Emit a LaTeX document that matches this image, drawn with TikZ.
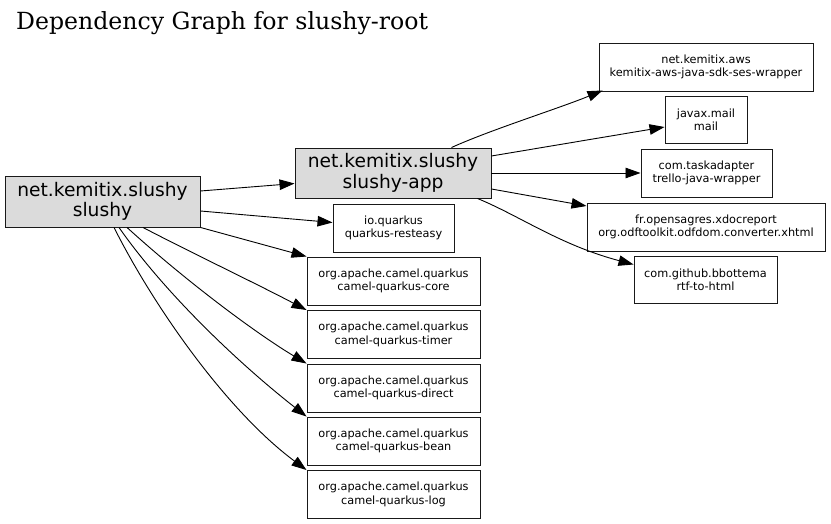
\documentclass[tikz,border=0pt]{standalone}
\usepackage{fontspec}
\setmainfont{DejaVu Sans}
\newfontfamily\titlefont{DejaVu Serif}
\usetikzlibrary{arrows.meta}
\begin{document}
\begin{tikzpicture}[x=1pt,y=-1pt,
  box/.style={draw=black!90, line width=0.95pt, inner sep=0pt, align=center,
    font=\fontsize{11.3}{13.3}\selectfont},
  bigbox/.style={box, fill=black!14, font=\fontsize{18.67}{20.5}\selectfont},
  dep/.style={-{Triangle[length=15pt,width=10.5pt]}, line width=0.9pt, black}]
\fill[white] (0,0) rectangle (831,524);
\useasboundingbox (0,0) rectangle (831,524);
\node[anchor=base west, inner sep=0pt, font=\titlefont\fontsize{23.6}{26}\selectfont] (title) at (16,29.5) {Dependency Graph for slushy-root};

\node[bigbox, minimum width=195, minimum height=51] (slushy) at (102.5,201.5) {net.kemitix.slushy\\slushy};
\node[bigbox, minimum width=196, minimum height=50] (app) at (393,173) {net.kemitix.slushy\\slushy-app};
\node[box, minimum width=121, minimum height=48] (rest) at (393.5,228) {io.quarkus\\quarkus-resteasy};
\node[box, minimum width=173, minimum height=48] (core) at (393.5,281) {org.apache.camel.quarkus\\camel-quarkus-core};
\node[box, minimum width=173, minimum height=48] (timer) at (393.5,334.5) {org.apache.camel.quarkus\\camel-quarkus-timer};
\node[box, minimum width=173, minimum height=48] (direct) at (393.5,388) {org.apache.camel.quarkus\\camel-quarkus-direct};
\node[box, minimum width=173, minimum height=48] (bean) at (393.5,441) {org.apache.camel.quarkus\\camel-quarkus-bean};
\node[box, minimum width=173, minimum height=48] (log) at (393.5,494.5) {org.apache.camel.quarkus\\camel-quarkus-log};

\node[box, minimum width=214, minimum height=48] (aws) at (706,67) {net.kemitix.aws\\kemitix-aws-java-sdk-ses-wrapper};
\node[box, minimum width=82, minimum height=47] (mail) at (706,119.5) {javax.mail\\mail};
\node[box, minimum width=131, minimum height=48] (trello) at (706.5,173) {com.taskadapter\\trello-java-wrapper};
\node[box, minimum width=238, minimum height=48] (xdoc) at (706,227) {fr.opensagres.xdocreport\\org.odftoolkit.odfdom.converter.xhtml};
\node[box, minimum width=143, minimum height=47] (rtf) at (705.5,279.5) {com.github.bbottema\\rtf-to-html};

% edges from slushy
\draw[dep] ([yshift=10.5pt]slushy.east) -- ([yshift=-10.5pt]app.west);
\draw[dep] ([yshift=-9.5pt]slushy.east) -- ([yshift=5.5pt]rest.west);
\draw[dep] (slushy.south east) -- (core.north west);
\draw[dep] ([xshift=40.5pt]slushy.south) .. controls (190,252) and (255,283) .. (timer.north west);
\draw[dep] ([xshift=24.5pt]slushy.south) .. controls (187,282) and (257,334) .. (direct.north west);
\draw[dep] ([xshift=16.5pt]slushy.south) .. controls (164,292) and (237,362) .. (bean.north west);
\draw[dep] ([xshift=11.5pt]slushy.south) .. controls (154,307) and (227,411) .. (log.north west);

% edges from app
\draw[dep] ([xshift=58.5pt]app.north) .. controls (490,130) and (560,108) .. ([xshift=4pt,yshift=1pt]aws.south west);
\draw[dep] ([yshift=17pt]app.east) -- ([yshift=-7.5pt]mail.west);
\draw[dep] (app.east) -- (trello.west);
\draw[dep] ([yshift=-16pt]app.east) -- ([yshift=21pt]xdoc.west);
\draw[dep] ([xshift=-14pt]app.south east) .. controls (520,216) and (560,245) .. ([yshift=15pt]rtf.west);
\end{tikzpicture}
\end{document}
